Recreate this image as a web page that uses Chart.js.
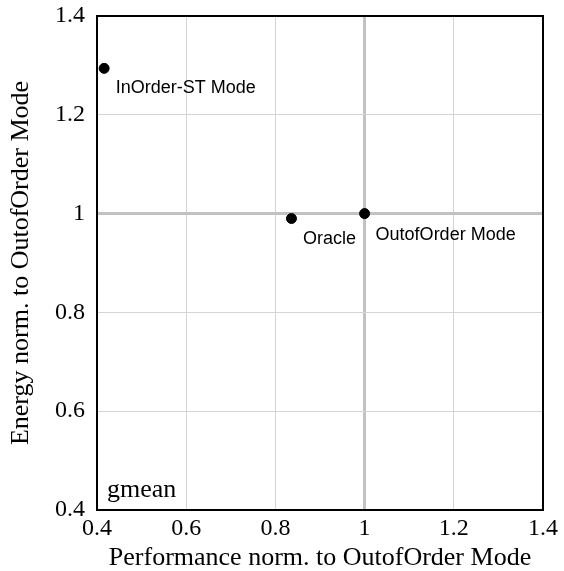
<!DOCTYPE html>
<html>
<head>
<meta charset="utf-8">
<script src="https://cdn.jsdelivr.net/npm/chart.js@4"></script>
<style>
  html, body { margin: 0; padding: 0; background: #fff; }
  #wrap { width: 564px; height: 571px; }
</style>
</head>
<body>
<div id="wrap"><canvas id="chart"></canvas></div>
<script>
// 各モードの点（性能, エネルギー）
const pointNames = ["InOrder-ST Mode", "Oracle", "OutofOrder Mode"];
const perfValues = [0.416, 0.836, 1.0];
const energyValues = [1.294, 0.99, 1.0];
const axisTicks = [0.4, 0.6, 0.8, 1, 1.2, 1.4];

const serif = "'Liberation Serif', 'DejaVu Serif', serif";
const sans = "'Liberation Sans', Arial, sans-serif";

// ラベル位置は点からのずれ（見た目用）
const labelOffsets = [[11.5, 24.5], [11.5, 25], [11, 26]];

const pointLabelPlugin = {
  id: "pointLabels",
  afterDatasetsDraw(chart) {
    const ctx = chart.ctx;
    const meta = chart.getDatasetMeta(0);
    ctx.save();
    ctx.font = "18px " + sans;
    ctx.fillStyle = "#000";
    ctx.textBaseline = "alphabetic";
    meta.data.forEach((pt, i) => {
      ctx.fillText(pointNames[i], pt.x + labelOffsets[i][0], pt.y + labelOffsets[i][1]);
    });
    // gmean
    const a = chart.chartArea;
    ctx.font = "26px " + serif;
    ctx.fillText("gmean", a.left + 10, a.bottom - 13);
    ctx.restore();
  },
  afterDraw(chart) {
    // 外枠
    const a = chart.chartArea;
    const ctx = chart.ctx;
    ctx.save();
    ctx.strokeStyle = "#000";
    ctx.lineWidth = 2;
    ctx.strokeRect(a.left, a.top, a.right - a.left, a.bottom - a.top);
    ctx.restore();
  }
};

const gridColor = c => (c.tick && c.tick.value === 1) ? "#c2c2c2" : "#d4d4d4";
const gridWidth = c => (c.tick && c.tick.value === 1) ? 3 : 1;

new Chart(document.getElementById("chart").getContext("2d"), {
  type: "scatter",
  data: {
    datasets: [{
      data: perfValues.map((x, i) => ({ x: x, y: energyValues[i] })),
      backgroundColor: "#000",
      borderColor: "#000",
      pointRadius: 5,
      pointHoverRadius: 5
    }]
  },
  options: {
    responsive: true,
    maintainAspectRatio: false,
    animation: false,
    layout: { padding: { left: 0, right: 21, top: 16, bottom: 0 } },
    plugins: { legend: { display: false }, tooltip: { enabled: false } },
    scales: {
      x: {
        type: "linear",
        min: 0.4, max: 1.4,
        afterBuildTicks: axis => { axis.ticks = axisTicks.map(v => ({ value: v })); },
        afterFit: axis => {
          axis.height = 61;
          axis.paddingLeft = 0; axis.paddingRight = 0;
        },
        grid: { color: gridColor, lineWidth: gridWidth, drawTicks: false },
        border: { display: false },
        ticks: {
          color: "#000", padding: 4, maxRotation: 0,
          font: { family: serif, size: 24 },
          callback: v => String(v)
        },
        title: {
          display: true, text: "Performance norm. to OutofOrder Mode",
          color: "#000", font: { family: serif, size: 26, lineHeight: 1 }, padding: { top: 0, bottom: 0 }
        }
      },
      y: {
        type: "linear",
        min: 0.4, max: 1.4,
        afterBuildTicks: axis => { axis.ticks = axisTicks.map(v => ({ value: v })); },
        afterFit: axis => {
          axis.width = 97;
          axis.paddingTop = 0; axis.paddingBottom = 0;
        },
        grid: { color: gridColor, lineWidth: gridWidth, drawTicks: false },
        border: { display: false },
        ticks: {
          color: "#000", padding: 12,
          font: { family: serif, size: 24 },
          callback: v => String(v)
        },
        title: {
          display: true, text: "Energy norm. to OutofOrder Mode",
          color: "#000", font: { family: serif, size: 26, lineHeight: 1 }, padding: { top: 8, bottom: 0 }
        }
      }
    }
  },
  plugins: [pointLabelPlugin]
});
</script>
</body>
</html>
